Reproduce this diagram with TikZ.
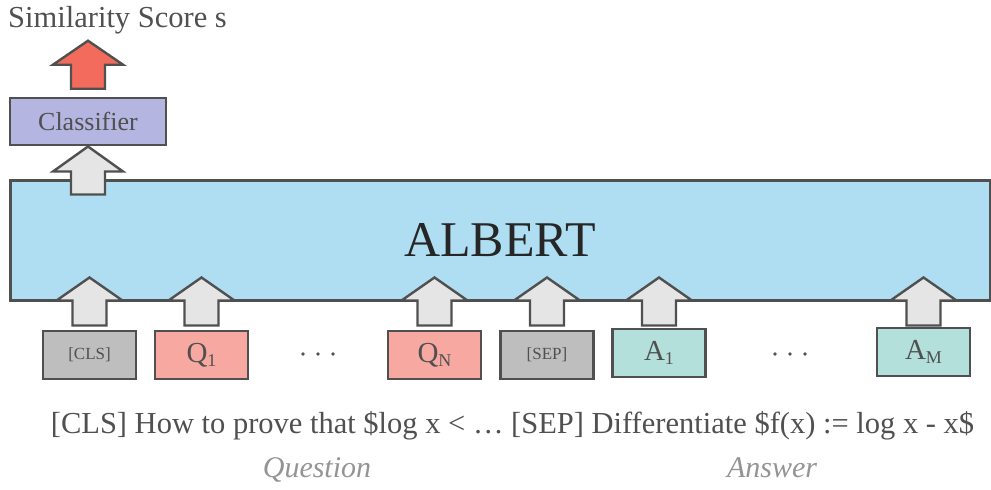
\documentclass[tikz,border=0pt]{standalone}
\usepackage{fontspec}
\setmainfont{Liberation Serif}
\begin{document}
\begin{tikzpicture}[x=1pt,y=-1pt,
  edge/.style={draw=edgegray,line width=2.6pt},
  box/.style={edge,minimum width=93pt,minimum height=48pt,inner sep=0pt,text=labelgray},
  tokfont/.style={font=\fontsize{29}{29}\selectfont},
  spfont/.style={font=\fontsize{17}{17}\selectfont},
  pics/blockarrow/.style n args={4}{code={
    % tip at the origin, #1 fill, #2 head height, #3 total length, #4 head half width
    \draw[edge,line width=2.4pt,line join=miter,fill=#1]
      (0,0) -- (#4,#2) -- (17,#2) -- (17,#3) -- (-17,#3) -- (-17,#2) -- (-#4,#2) -- cycle;
  }}]
\definecolor{edgegray}{HTML}{505050}
\definecolor{labelgray}{HTML}{505050}
\definecolor{albertblue}{HTML}{AFDEF2}
\definecolor{clsblue}{HTML}{B5B5E2}
\definecolor{scorered}{HTML}{F26B5C}
\definecolor{arrowgray}{HTML}{E5E5E5}
\definecolor{specgray}{HTML}{BEBEBE}
\definecolor{qred}{HTML}{F7A9A1}
\definecolor{agreen}{HTML}{B3E0DB}
\newcommand\tokname[2]{#1\raisebox{-0.3ex}{\fontsize{18}{18}\selectfont #2}}
\useasboundingbox (0,0) rectangle (991,490);

% output text and classifier
\node[anchor=base west,inner sep=0pt,text=labelgray,font=\fontsize{30.5}{30.5}\selectfont] (score) at (8,27) {Similarity Score s};
\node[edge,fill=clsblue,minimum width=156pt,minimum height=47pt,inner sep=0pt,text=labelgray,font=\fontsize{26}{26}\selectfont] (clf) at (88,121.5) {Classifier};

% encoder
\node[edge,line width=3pt,fill=albertblue,minimum width=980pt,minimum height=120pt,inner sep=0pt,text=black!85,font=\fontsize{50}{50}\selectfont] (albert) at (500,240) {ALBERT};

% input tokens
\node[box,fill=specgray,spfont] (cls) at (89.5,355) {[CLS]};
\node[box,fill=qred,tokfont] (q1) at (201.5,355) {\tokname{Q}{1}};
\coordinate (dots1) at (318,354);
\node[box,fill=qred,tokfont] (qn) at (434.5,355) {\tokname{Q}{N}};
\node[box,fill=specgray,spfont] (sep) at (547,355) {[SEP]};
\node[box,fill=agreen,tokfont] (a1) at (659,353) {\tokname{A}{1}};
\coordinate (dots2) at (790,354);
\node[box,fill=agreen,tokfont] (am) at (923.5,352) {\tokname{A}{M}};
\foreach \d in {dots1,dots2}
  \foreach \dx in {-15,0,15}
    \fill[labelgray] ([xshift=\dx pt]\d) circle (1.9pt);

% block arrows
\pic at ([yshift=32pt]albert.north -| clf) {blockarrow={arrowgray}{25}{48}{35}};
\pic at ([yshift=56pt]clf.north) {blockarrow={scorered}{24}{48}{35}};
\foreach \t in {cls,q1,qn,sep,a1,am}
  \pic at ([yshift=24pt]albert.south -| \t) {blockarrow={arrowgray}{23}{48}{33}};

% input sequence
\node[anchor=base,inner sep=0pt,text=labelgray,font=\fontsize{30.5}{30.5}\selectfont] (seq) at (512.5,433) {[CLS] How to prove that \$log x < \dots{} [SEP] Differentiate \$f(x) := log x - x\$};
\node[anchor=base,inner sep=0pt,text=black!42,font=\fontsize{30}{30}\selectfont\itshape] (qlab) at (317,477) {Question};
\node[anchor=base,inner sep=0pt,text=black!42,font=\fontsize{30}{30}\selectfont\itshape] (alab) at (772,477) {Answer};
\end{tikzpicture}
\end{document}
